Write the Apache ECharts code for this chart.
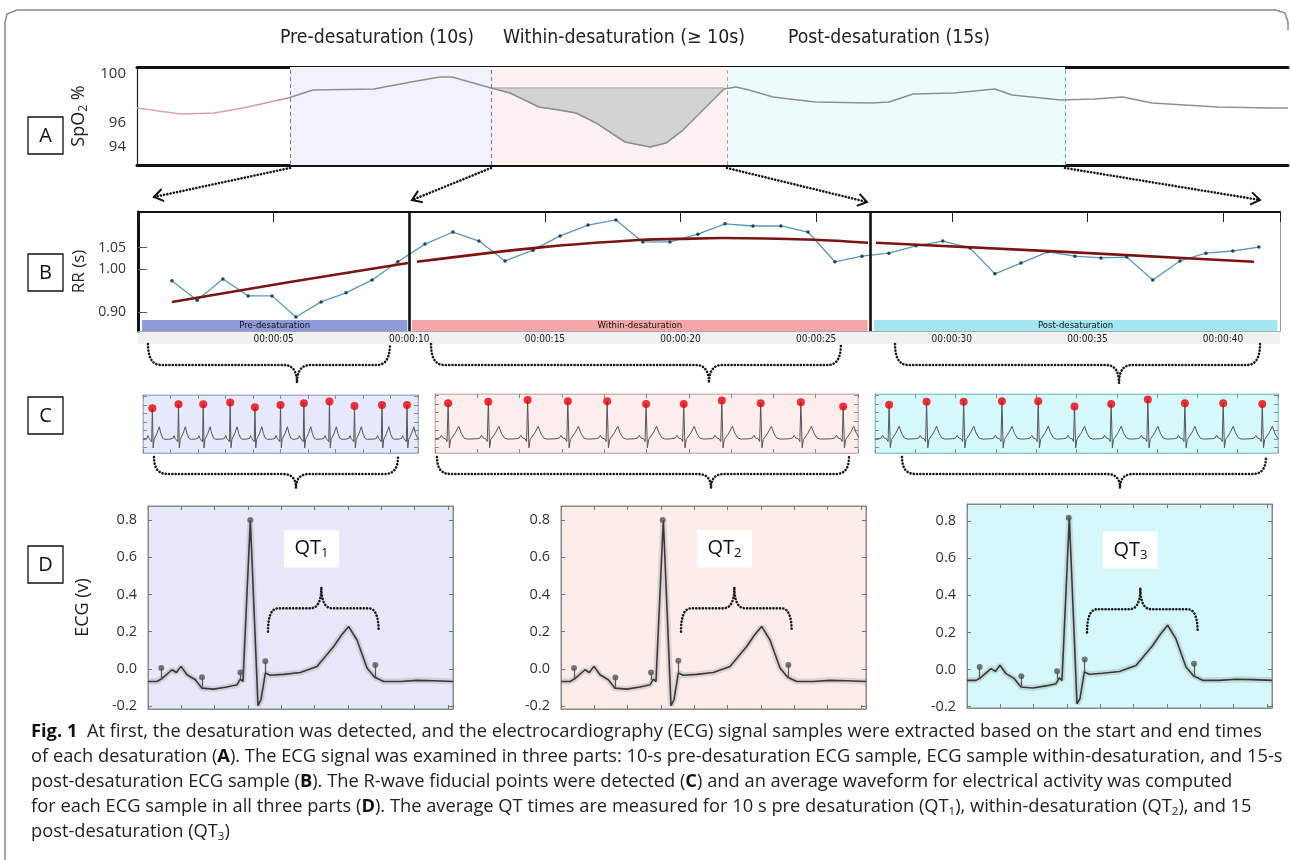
<!DOCTYPE html>
<html><head><meta charset="utf-8">
<script src="https://cdn.jsdelivr.net/npm/echarts@6/dist/echarts.min.js"></script>
<style>html,body{margin:0;padding:0;background:#fff}#c{width:1290px;height:860px}</style>
</head><body><div id="c"></div>
<script>
// ================= DATA =================
const phaseTitles = ['Pre-desaturation (10s)', 'Within-desaturation (\u2265 10s)', 'Post-desaturation (15s)'];
const panelLetters = ['A', 'B', 'C', 'D'];

// Panel A: SpO2 (%) over time (s)
const spo2Time  = [0, 2.2, 3.85, 5.3, 7.55, 8.8, 11.85, 13.7, 15.15, 15.75, 17.7, 18.65, 20.1, 21.1, 21.95, 22.95, 24.4, 25.65, 26.45, 27.3, 28.3, 28.95, 29.35, 29.95, 30.6, 31.8, 33.9, 36.75, 37.6, 38.8, 40.85, 42.9, 43.75, 46.2, 47.85, 49.3, 50.75, 54.05, 56.7, 57.55];
const spo2Value = [97.19, 96.69, 96.78, 97.19, 98.02, 98.69, 98.77, 99.35, 99.77, 99.77, 98.86, 98.44, 97.28, 97.03, 96.78, 95.95, 94.37, 93.95, 94.28, 95.36, 97.03, 98.11, 98.77, 98.94, 98.69, 98.11, 97.69, 97.61, 97.69, 98.36, 98.44, 98.77, 98.27, 97.86, 97.94, 98.11, 97.61, 97.28, 97.19, 97.19];
const spo2Ticks = [94, 96, 100];
const desatLevel = 98.86;
const desatSpan = [17.7, 29.35];
const phaseBoundsA = [7.65, 17.7, 29.5, 46.4];

// Panel B: RR intervals (s) over time (s)
const rrTime  = [1.25, 2.18, 3.13, 4.06, 4.94, 5.82, 6.75, 7.67, 8.63, 9.58, 10.58, 11.61, 12.57, 13.53, 14.56, 15.56, 16.59, 17.62, 18.61, 19.61, 20.64, 21.64, 22.67, 23.70, 24.70, 25.69, 26.69, 27.68, 28.68, 29.67, 30.67, 31.59, 32.55, 33.54, 34.54, 35.50, 36.45, 37.41, 38.41, 39.37, 40.36, 41.32];
const rrValue = [0.973, 0.928, 0.977, 0.938, 0.938, 0.889, 0.924, 0.945, 0.975, 1.017, 1.058, 1.086, 1.065, 1.019, 1.044, 1.077, 1.102, 1.114, 1.063, 1.063, 1.081, 1.105, 1.100, 1.100, 1.086, 1.017, 1.030, 1.037, 1.054, 1.065, 1.049, 0.989, 1.014, 1.040, 1.030, 1.026, 1.028, 0.975, 1.019, 1.037, 1.042, 1.051];
const rrTicks = [0.90, 1.00, 1.05];
const trendPre    = [[1.25, 0.924], [5.6, 0.970], [9.95, 1.014]];
const trendWithin = [[10.28, 1.017], [14.93, 1.051], [18.61, 1.068], [19.94, 1.070], [21.56, 1.072], [24.92, 1.068], [26.91, 1.061]];
const trendPost   = [[27.2, 1.061], [34.17, 1.040], [41.14, 1.017]];
const phaseBoundsB = [10.0, 27.0];
const bandRanges = [[0.15, 9.93], [10.1, 26.9], [27.13, 42.0]];
const bandLabels = ['Pre-desaturation', 'Within-desaturation', 'Post-desaturation'];

// Panel C: ECG strips, R-peak times (s) and amplitudes (mV)
const rTimesPre    = [0.34, 1.29, 2.19, 3.17, 4.07, 5.00, 5.85, 6.78, 7.69, 8.69, 9.60];
const rAmpPre      = [0.90, 1.02, 1.02, 1.07, 0.93, 1.00, 1.05, 1.10, 0.97, 1.00, 1.00];
const rTimesWithin = [0.31, 1.26, 2.19, 3.14, 4.07, 4.99, 5.88, 6.78, 7.70, 8.65, 9.65];
const rAmpWithin   = [1.02, 1.07, 1.12, 1.08, 1.08, 1.00, 1.00, 1.10, 1.02, 1.05, 0.93];
const rTimesPost   = [0.35, 1.28, 2.20, 3.15, 4.05, 4.95, 5.86, 6.77, 7.69, 8.64, 9.61];
const rAmpPost     = [0.98, 1.07, 1.07, 1.08, 1.08, 0.93, 1.00, 1.13, 1.02, 1.02, 1.00];
// one beat read from the strips: offsets from the R wave (s) and amplitude (mV); R amplitude comes from the arrays above
const beatOffset = [-0.28, -0.2, -0.16, -0.12, -0.06, -0.025, 0, 0.03, 0.06, 0.1, 0.17, 0.25, 0.31, 0.38, 0.46];
const beatShape  = [0, 0.02, 0.1, 0.02, 0, -0.08, null, -0.26, -0.02, 0.05, 0.17, 0.36, 0.16, 0.02, -0.01];

// Panel D: average beat (ms, V)
const ecgMs     = [0, 27, 40, 72, 85, 99, 117, 142, 162, 197, 237, 267, 277, 285, 307, 330, 339, 352, 367, 407, 457, 507, 557, 580, 602, 627, 657, 680, 707, 757, 807, 857, 915];
const ecgPre    = [-0.068, -0.068, -0.055, -0.005, -0.02, 0.013, -0.032, -0.059, -0.104, -0.109, -0.098, -0.086, -0.055, -0.068, 0.80, -0.198, -0.166, -0.023, -0.035, -0.03, -0.02, 0.012, 0.12, 0.18, 0.227, 0.155, 0.004, -0.045, -0.068, -0.068, -0.062, -0.064, -0.068];
const ecgWithin = [-0.068, -0.068, -0.055, -0.005, -0.02, 0.013, -0.032, -0.059, -0.104, -0.109, -0.098, -0.086, -0.055, -0.068, 0.80, -0.198, -0.166, -0.023, -0.035, -0.03, -0.02, 0.012, 0.12, 0.18, 0.228, 0.155, 0.004, -0.045, -0.068, -0.068, -0.062, -0.064, -0.068];
const ecgPost   = [-0.058, -0.058, -0.045, 0.005, -0.01, 0.023, -0.022, -0.049, -0.094, -0.099, -0.088, -0.076, -0.045, -0.058, 0.818, -0.184, -0.156, -0.013, -0.025, -0.02, -0.01, 0.022, 0.13, 0.19, 0.239, 0.165, 0.014, -0.035, -0.058, -0.058, -0.052, -0.054, -0.058];
const ecgTicks = [-0.2, 0, 0.2, 0.4, 0.6, 0.8];
const fidMs   = [[40, 162, 277, 307, 352, 682], [39, 163, 270, 305, 352, 682], [38, 163, 270, 305, 353, 681]];
const fidDot  = [[0.004, -0.046, -0.02, 0.80, 0.04, 0.02], [0.004, -0.047, -0.02, 0.80, 0.043, 0.02], [0.014, -0.036, -0.009, 0.818, 0.054, 0.032]];
const fidBase = [[-0.055, -0.104, -0.055, 0.80, -0.023, -0.047], [-0.055, -0.104, -0.06, 0.80, -0.023, -0.047], [-0.045, -0.094, -0.05, 0.818, -0.013, -0.037]];
const qtLabels = ['1', '2', '3'];
// QT bracket (ms, V) and label box (ms, V)
const qtBracket = {start: 360, end: 692, tip: 520, endV: 0.2, midV: 0.325, tipV: 0.44};
const qtBox = {x0: 408, x1: 573, v0: 0.545, v1: 0.745};

const captionLines = [
  '{b|Fig. 1}  At first, the desaturation was detected, and the electrocardiography (ECG) signal samples were extracted based on the start and end times',
  'of each desaturation ({b|A}). The ECG signal was examined in three parts: 10-s pre-desaturation ECG sample, ECG sample within-desaturation, and 15-s',
  'post-desaturation ECG sample ({b|B}). The R-wave fiducial points were detected ({b|C}) and an average waveform for electrical activity was computed',
  'for each ECG sample in all three parts ({b|D}). The average QT times are measured for 10 s pre desaturation (QT{s|1}), within-desaturation (QT{s|2}), and 15',
  'post-desaturation (QT{s|3})'
];

// ================= CHART =================
const FONT = '"Open Sans", "Noto Sans", sans-serif';
const NARROW = '"Liberation Sans Narrow", "DejaVu Sans Condensed", "Open Sans", sans-serif';
const cv = document.createElement('canvas').getContext('2d');
function measure(font, s) { cv.font = font; return cv.measureText(s).width; }

const grids = [], xAxes = [], yAxes = [], series = [];
const addGrid = g => (grids.push(g), grids.length - 1);
const addX = a => (xAxes.push(Object.assign({type: 'value', splitLine: {show: false}}, a)), xAxes.length - 1);
const addY = a => (yAxes.push(Object.assign({type: 'value', splitLine: {show: false}}, a)), yAxes.length - 1);
const noTick = {show: false}, noLabel = {show: false};

// ---- Panel A ----
const gA = addGrid({left: 137, top: 67, width: 1151, height: 98});
const xA = addX({gridIndex: gA, min: 0, max: 57.55, axisLine: {onZero: false, lineStyle: {color: '#111', width: 3}}, axisTick: noTick, axisLabel: noLabel});
addX({gridIndex: gA, position: 'top', min: 0, max: 57.55, axisLine: {onZero: false, lineStyle: {color: '#111', width: 3}}, axisTick: noTick, axisLabel: noLabel});
const yA = addY({gridIndex: gA, min: 92.455, max: 100.6, axisLine: {show: true, onZero: false, lineStyle: {color: '#222', width: 1.2}}, axisTick: noTick,
  axisLabel: {customValues: spo2Ticks, fontSize: 15, color: '#333', fontFamily: FONT, margin: 11},
  name: '{a|SpO}{s|2}{a| %}', nameLocation: 'middle', nameRotate: 90, nameGap: 45,
  nameTextStyle: {rich: {a: {fontSize: 18, fontFamily: FONT, color: '#222'}, s: {fontSize: 12, fontFamily: FONT, color: '#222', padding: [9, 0, 0, 0]}}}});
const regionColorsA = ['#f1f2fe', '#fdf1f1', '#edfdfe'];
const dashColorsA = ['#6d75bd', '#6d75bd', '#d88f95', '#3fc4df'];
series.push({type: 'line', xAxisIndex: xA, yAxisIndex: yA, data: spo2Time.map((t, i) => [t, spo2Value[i]]), symbol: 'none', z: 3, silent: true,
  lineStyle: {width: 1.6, color: new echarts.graphic.LinearGradient(0, 0, 1, 0, [{offset: 0, color: '#d8aaaa'}, {offset: 0.12, color: '#c9a3a3'}, {offset: 0.14, color: '#8f8f8f'}, {offset: 1, color: '#8f8f8f'}])},
  markArea: {silent: true, data: [0, 1, 2].map(i => [{xAxis: phaseBoundsA[i], itemStyle: {color: regionColorsA[i]}}, {xAxis: phaseBoundsA[i + 1]}])},
  markLine: {silent: true, symbol: 'none', label: {show: false}, data: phaseBoundsA.map((b, i) => ({xAxis: b, lineStyle: {color: dashColorsA[i], type: [4, 3], width: 1}}))}
});
const fillPts = spo2Time.map((t, i) => [t, spo2Value[i]]).filter(p => p[0] >= desatSpan[0] && p[0] <= desatSpan[1]);
series.push({type: 'custom', xAxisIndex: xA, yAxisIndex: yA, z: 2, silent: true, data: [[20, 96]],
  renderItem: (params, api) => {
    const pts = fillPts.map(p => api.coord(p));
    const a = api.coord([fillPts[0][0], desatLevel]);
    const b = api.coord([fillPts[fillPts.length - 1][0], desatLevel]);
    return {type: 'polygon', shape: {points: [a].concat(pts, [b])}, style: {fill: '#d3d3d3', stroke: '#a5a5a5', lineWidth: 1}};
  }});

// ---- Panel B ----
const gB = addGrid({left: 138, top: 212, width: 1142, height: 119});
const xB = addX({gridIndex: gB, min: 0, max: 42.1, interval: 5, axisLine: {onZero: false, lineStyle: {color: '#aaa', width: 1}},
  axisTick: {inside: true, length: 11, lineStyle: {color: '#333', width: 1}},
  axisLabel: {fontSize: 10, fontFamily: NARROW, color: '#222', margin: 3, showMinLabel: false, showMaxLabel: false,
    formatter: v => '00:00:' + (v < 10 ? '0' + v : v)}});
addX({gridIndex: gB, position: 'top', min: 0, max: 42.1, interval: 5, axisLine: {onZero: false, lineStyle: {color: '#111', width: 2}},
  axisTick: {inside: true, length: 10, lineStyle: {color: '#222', width: 1}}, axisLabel: noLabel});
const yB = addY({gridIndex: gB, min: 0.8566, max: 1.1324, axisLine: {show: true, onZero: false, lineStyle: {color: '#111', width: 3}},
  axisTick: {show: true, inside: true, length: 9, customValues: rrTicks, lineStyle: {color: '#555'}},
  axisLabel: {customValues: rrTicks, formatter: v => v.toFixed(2), fontSize: 14, color: '#333', fontFamily: FONT, margin: 12},
  name: 'RR (s)', nameLocation: 'middle', nameRotate: 90, nameGap: 41, nameTextStyle: {fontSize: 17, fontFamily: FONT, color: '#222'}});
addY({gridIndex: gB, position: 'right', min: 0.8566, max: 1.1324, axisLine: {show: true, onZero: false, lineStyle: {color: '#999', width: 1}}, axisTick: noTick, axisLabel: noLabel});
const bandColors = ['#8f9ad8', '#f3a7a9', '#a3e5f0'];
series.push({type: 'line', xAxisIndex: xB, yAxisIndex: yB, data: rrTime.map((t, i) => [t, rrValue[i]]), z: 3, silent: true,
  symbol: 'circle', symbolSize: 3.5, itemStyle: {color: '#23445a'}, lineStyle: {color: '#5b98b4', width: 1.3},
  markArea: {silent: true, label: {show: true, position: 'inside', fontSize: 9.5, fontFamily: NARROW, color: '#111'},
    data: bandRanges.map((r, i) => [{name: bandLabels[i], xAxis: r[0], yAxis: 0.8566, itemStyle: {color: bandColors[i]}}, {xAxis: r[1], yAxis: 0.8821}])},
  markLine: {silent: true, symbol: 'none', label: {show: false}, lineStyle: {color: '#111', width: 2.6, type: 'solid'},
    data: phaseBoundsB.map(b => ({xAxis: b}))}
});
[trendPre, trendWithin, trendPost].forEach((tr, i) => series.push({type: 'line', xAxisIndex: xB, yAxisIndex: yB, data: tr, symbol: 'none', smooth: i === 1 ? 0.35 : false, z: 4, silent: true,
  lineStyle: {color: '#7a1515', width: 2.6}}));

// ---- Panel C ----
function buildStrip(rTimes, rAmps) {
  const pts = [[0, 0]];
  rTimes.forEach((t, i) => beatOffset.forEach((o, j) => pts.push([t + o, beatShape[j] === null ? rAmps[i] : beatShape[j]])));
  return pts;
}
const cCfg = [
  {box: {left: 143, top: 395, width: 275, height: 58}, bg: '#e6eafc', border: '#a9b1d3', t: rTimesPre, a: rAmpPre},
  {box: {left: 435, top: 394, width: 423, height: 59}, bg: '#fdeeee', border: '#d4b7b7', t: rTimesWithin, a: rAmpWithin},
  {box: {left: 875, top: 394, width: 403, height: 59}, bg: '#d6f9fb', border: '#8fcdd6', t: rTimesPost, a: rAmpPost}
];
const cTicks = [-0.25, 0, 0.25, 0.5, 0.75, 1, 1.25];
cCfg.forEach(c => {
  const g = addGrid(Object.assign({show: true, backgroundColor: c.bg, borderColor: c.border, borderWidth: 1}, c.box));
  const tick = {inside: true, length: 4, lineStyle: {color: '#8a8a8a'}};
  const x = addX({gridIndex: g, min: 0, max: 10, interval: 1, axisLine: {onZero: false, lineStyle: {color: c.border}}, axisTick: tick, axisLabel: noLabel});
  addX({gridIndex: g, position: 'top', min: 0, max: 10, interval: 1, axisLine: {onZero: false, lineStyle: {color: c.border}}, axisTick: tick, axisLabel: noLabel});
  const y = addY({gridIndex: g, min: -0.41, max: 1.29, axisLine: {show: true, onZero: false, lineStyle: {color: c.border}}, axisTick: Object.assign({show: true, customValues: cTicks}, tick), axisLabel: noLabel});
  addY({gridIndex: g, position: 'right', min: -0.41, max: 1.29, axisLine: {show: true, onZero: false, lineStyle: {color: c.border}}, axisTick: Object.assign({show: true, customValues: cTicks}, tick), axisLabel: noLabel});
  series.push({type: 'line', xAxisIndex: x, yAxisIndex: y, data: buildStrip(c.t, c.a), symbol: 'none', silent: true, z: 3, lineStyle: {color: '#555', width: 1}});
  series.push({type: 'scatter', xAxisIndex: x, yAxisIndex: y, data: c.t.map((t, i) => [t, c.a[i]]), symbolSize: 8, silent: true, z: 4, itemStyle: {color: '#e8000b'}});
});

// ---- Panel D ----
const dCfg = [
  {box: {left: 148, top: 506, width: 305, height: 203}, min: -0.216, max: 0.875, bg: '#e7e9fb', data: ecgPre},
  {box: {left: 561, top: 506, width: 305, height: 203}, min: -0.216, max: 0.875, bg: '#fcecea', data: ecgWithin},
  {box: {left: 967, top: 504, width: 305, height: 204}, min: -0.207, max: 0.892, bg: '#d5f8fa', data: ecgPost}
];
const dAxes = [];
dCfg.forEach((d, k) => {
  const g = addGrid(Object.assign({show: true, backgroundColor: d.bg, borderColor: '#8a8a8a', borderWidth: 1}, d.box));
  const tick = {inside: true, length: 4, lineStyle: {color: '#777'}};
  const line = {onZero: false, lineStyle: {color: '#8a8a8a'}};
  const x = addX({gridIndex: g, min: 0, max: 915, interval: 100, axisLine: line, axisTick: tick, axisLabel: noLabel});
  addX({gridIndex: g, position: 'top', min: 0, max: 915, interval: 100, axisLine: line, axisTick: tick, axisLabel: noLabel});
  const yOpt = {gridIndex: g, min: d.min, max: d.max, axisLine: Object.assign({show: true}, line), axisTick: Object.assign({show: true, customValues: ecgTicks}, tick)};
  const y = addY(Object.assign({}, yOpt, {axisLabel: {customValues: ecgTicks, formatter: v => v.toFixed(1), fontSize: 14.5, color: '#333', fontFamily: FONT, margin: 11},
    name: k === 0 ? 'ECG (v)' : '', nameLocation: 'middle', nameRotate: 90, nameGap: 56, nameTextStyle: {fontSize: 18, fontFamily: FONT, color: '#222'}}));
  addY(Object.assign({}, yOpt, {position: 'right', axisLabel: noLabel}));
  dAxes.push({x, y});
  const pts = ecgMs.map((m, i) => [m, d.data[i]]);
  series.push({type: 'line', xAxisIndex: x, yAxisIndex: y, data: pts, symbol: 'none', silent: true, z: 2, lineStyle: {color: 'rgba(150,150,150,0.3)', width: 6}});
  series.push({type: 'line', xAxisIndex: x, yAxisIndex: y, data: pts, symbol: 'none', silent: true, z: 3, lineStyle: {color: '#383838', width: 1.6}});
  series.push({type: 'scatter', xAxisIndex: x, yAxisIndex: y, data: fidMs[k].map((m, i) => [m, fidDot[k][i]]), symbolSize: 6, silent: true, z: 4, itemStyle: {color: '#555'},
    markLine: {silent: true, symbol: 'none', label: {show: false}, lineStyle: {color: '#555', width: 1.2, type: 'solid'},
      data: fidMs[k].map((m, i) => [{coord: [m, fidDot[k][i]]}, {coord: [m, fidBase[k][i]]}])}});
});

const chart = echarts.init(document.getElementById('c'), null, {renderer: 'canvas'});
chart.setOption({animation: false, backgroundColor: '#fff', grid: grids, xAxis: xAxes, yAxis: yAxes, series: series});

// ================= ANNOTATIONS (layout) =================
const G = [];
const Z = 50;
G.push({type: 'polyline', z: Z, silent: true, shape: {points: [[5, 870], [5, 22], [7, 14], [17, 10], [1276, 10], [1285, 13], [1288, 22], [1288, 30]]}, style: {stroke: '#8a8a8a', lineWidth: 1.5, fill: 'none'}});
G.push({type: 'rect', z: -1, silent: true, shape: {x: 138, y: 331, width: 1142, height: 13}, style: {fill: '#f1f1f1'}});
const titleBoxes = [[280, 474], [503, 745], [788, 990]];
const titleFont = '19px ' + NARROW;
phaseTitles.forEach((t, i) => {
  const w = measure(titleFont, t);
  G.push({type: 'text', z: Z, silent: true, x: titleBoxes[i][0], y: 38, scaleX: (titleBoxes[i][1] - titleBoxes[i][0]) / w,
    style: {text: t, fontSize: 19, fontFamily: NARROW, fill: '#222', align: 'left', verticalAlign: 'middle', textAlign: 'left', textVerticalAlign: 'middle'}});
});
const letterY = [117, 254, 397, 546];
panelLetters.forEach((l, i) => {
  G.push({type: 'rect', z: Z, silent: true, shape: {x: 28, y: letterY[i], width: 35, height: 37}, style: {fill: '#fff', stroke: '#111', lineWidth: 1.3}});
  G.push({type: 'text', z: Z + 1, silent: true, x: 45.5, y: letterY[i] + 19, style: {text: l, fontSize: 20, fontFamily: FONT, fill: '#111', align: 'center', verticalAlign: 'middle', textAlign: 'center', textVerticalAlign: 'middle'}});
});
const dotted = {stroke: '#1a1a1a', lineWidth: 2.6, lineDash: [0.1, 3.2], lineCap: 'round', fill: 'none'};
[[290, 168, 154, 197], [491, 168, 412, 200], [727, 168, 867, 202], [1065, 168, 1260, 200]].forEach(a => {
  G.push({type: 'line', z: Z, silent: true, shape: {x1: a[0], y1: a[1], x2: a[2], y2: a[3]}, style: dotted});
  const dx = a[2] - a[0], dy = a[3] - a[1], L = Math.hypot(dx, dy), ux = dx / L, uy = dy / L;
  const h = 11, ang = 0.6;
  const p1 = [a[2] - h * (ux * Math.cos(ang) - uy * Math.sin(ang)), a[3] - h * (uy * Math.cos(ang) + ux * Math.sin(ang))];
  const p2 = [a[2] - h * (ux * Math.cos(-ang) - uy * Math.sin(-ang)), a[3] - h * (uy * Math.cos(-ang) + ux * Math.sin(-ang))];
  G.push({type: 'polyline', z: Z, silent: true, shape: {points: [p1, [a[2], a[3]], p2]}, style: {stroke: '#111', lineWidth: 2, fill: 'none'}});
});
function quad(p0, c, p1, n) { const o = []; for (let i = 1; i <= n; i++) { const t = i / n; o.push([(1 - t) * (1 - t) * p0[0] + 2 * (1 - t) * t * c[0] + t * t * p1[0], (1 - t) * (1 - t) * p0[1] + 2 * (1 - t) * t * c[1] + t * t * p1[1]]); } return o; }
function brace(x1, x2, xm, yEnd, yMid, yTip, r, t) {
  let pts = [[x1, yEnd]];
  pts = pts.concat(quad([x1, yEnd], [x1, yMid], [x1 + r, yMid], 10));
  pts.push([xm - t, yMid]);
  pts = pts.concat(quad([xm - t, yMid], [xm, yMid], [xm, yTip], 10));
  pts = pts.concat(quad([xm, yTip], [xm, yMid], [xm + t, yMid], 10));
  pts.push([x2 - r, yMid]);
  pts = pts.concat(quad([x2 - r, yMid], [x2, yMid], [x2, yEnd], 10));
  return {type: 'polyline', z: Z, silent: true, shape: {points: pts}, style: dotted};
}
[[148, 390, 297], [431, 841, 709], [895, 1260, 1119]].forEach(b => G.push(brace(b[0], b[1], b[2], 344, 365, 383, 13, 13)));
[[154, 398, 296], [437, 849, 711], [902, 1266, 1120]].forEach(b => G.push(brace(b[0], b[1], b[2], 457, 474, 488, 13, 13)));
dAxes.forEach((ax, k) => {
  const P = (m, v) => chart.convertToPixel({xAxisIndex: ax.x, yAxisIndex: ax.y}, [m, v]);
  const s = P(qtBracket.start, qtBracket.endV), e = P(qtBracket.end, qtBracket.endV), m = P(qtBracket.tip, qtBracket.midV), tp = P(qtBracket.tip, qtBracket.tipV);
  G.push(brace(s[0], e[0], m[0], s[1], m[1], tp[1], 10, 11));
  const b0 = P(qtBox.x0, qtBox.v1), b1 = P(qtBox.x1, qtBox.v0);
  G.push({type: 'rect', z: Z, silent: true, shape: {x: b0[0], y: b0[1], width: b1[0] - b0[0], height: b1[1] - b0[1]}, style: {fill: '#fff'}});
  G.push({type: 'text', z: Z + 1, silent: true, x: (b0[0] + b1[0]) / 2, y: (b0[1] + b1[1]) / 2,
    style: {text: '{a|QT}{s|' + qtLabels[k] + '}', align: 'center', verticalAlign: 'middle', textAlign: 'center', textVerticalAlign: 'middle',
      rich: {a: {fontSize: 20, fontFamily: FONT, fill: '#111', color: '#111'}, s: {fontSize: 13, fontFamily: FONT, fill: '#111', color: '#111', padding: [10, 0, 0, 0]}}}});
});
const capSize = 17.5;
const line1Plain = captionLines[0].replace('{b|Fig. 1}', '');
const capW = measure('bold ' + capSize + 'px ' + FONT, 'Fig. 1') + measure(capSize + 'px ' + FONT, line1Plain);
const capScale = 1231 / capW;
const capY = [732, 757, 782, 807, 832];
captionLines.forEach((l, i) => {
  G.push({type: 'text', z: Z, silent: true, x: 31, y: capY[i], scaleX: capScale,
    style: {text: l, fontSize: capSize, fontFamily: FONT, fill: '#222', align: 'left', verticalAlign: 'middle', textAlign: 'left', textVerticalAlign: 'middle',
      rich: {b: {fontSize: capSize, fontFamily: FONT, fontWeight: 'bold', fill: '#111', color: '#111'}, s: {fontSize: 11, fontFamily: FONT, fill: '#222', color: '#222', padding: [9, 0, 0, 0]}}}});
});
chart.setOption({graphic: {elements: G}});
</script>
</body></html>
